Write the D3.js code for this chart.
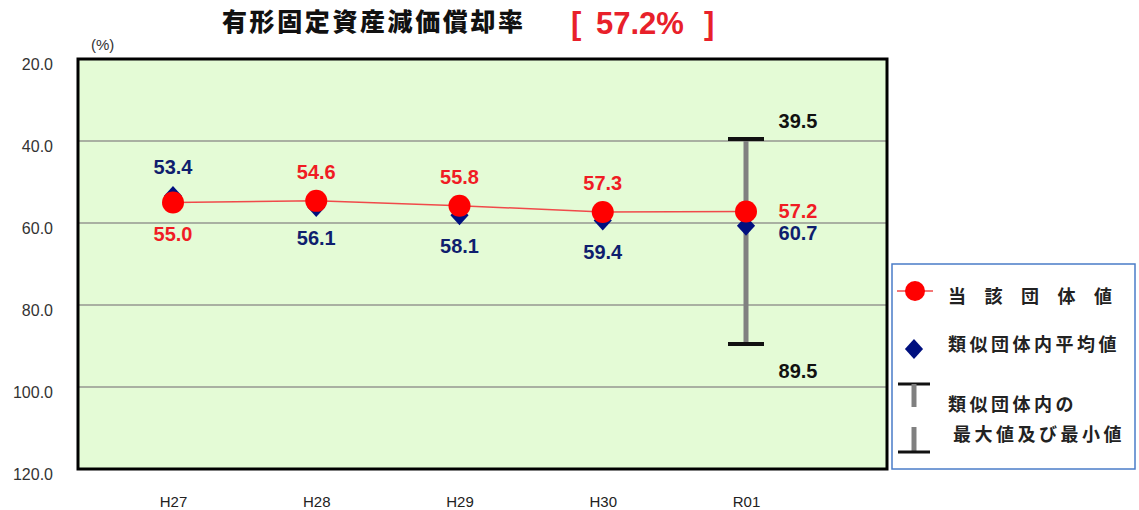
<!DOCTYPE html>
<html>
<head>
<meta charset="utf-8">
<script src="https://cdn.jsdelivr.net/npm/d3@7"></script>
<style>
  html, body { margin: 0; padding: 0; background: #ffffff; }
  svg { display: block; }
</style>
</head>
<body>
<svg id="chart" width="1139" height="510"></svg>
<script>
// Fiscal years
const categories = ["H27", "H28", "H29", "H30", "R01"];
// This body's ratio (%)
const ownValues = [55.0, 54.6, 55.8, 57.3, 57.2];
// Average of similar bodies (%)
const avgValues = [53.4, 56.1, 58.1, 59.4, 60.7];
// Range among similar bodies for the latest year
const rangeYear = "R01";
const rangeMax = 39.5;
const rangeMin = 89.5;
// Y axis ticks
const yTicks = [20, 40, 60, 80, 100, 120];
const headline = "57.2%";

const svg = d3.select("#chart");
const numFont = "'Liberation Sans', Arial, sans-serif";
const jpFont = "'Noto Sans CJK JP', sans-serif";

const plot = { left: 78, top: 59, right: 887, bottom: 469 };

const y = d3.scaleLinear().domain([20, 120]).range([plot.top, plot.bottom]);
const x = d3.scalePoint().domain(categories).range([173, 746]);

// Title
svg.append("text")
  .attr("x", 222).attr("y", 31)
  .attr("font-family", jpFont).attr("font-weight", 900)
  .attr("font-size", 25).attr("letter-spacing", 2.6)
  .attr("fill", "#111")
  .text("有形固定資産減価償却率");
const titleNum = svg.append("g")
  .attr("font-family", numFont).attr("font-weight", 700)
  .attr("font-size", 31).attr("fill", "#e8202a");
titleNum.append("text").attr("x", 571).attr("y", 34).text("[");
titleNum.append("text").attr("x", 596).attr("y", 34).text(headline);
titleNum.append("text").attr("x", 704).attr("y", 34).text("]");

// Unit label
svg.append("text")
  .attr("x", 91).attr("y", 50)
  .attr("font-family", numFont).attr("font-size", 15).attr("fill", "#333")
  .text("(%)");

// Plot background
svg.append("rect")
  .attr("x", plot.left).attr("y", plot.top)
  .attr("width", plot.right - plot.left).attr("height", plot.bottom - plot.top)
  .attr("fill", "#e4fbd6");

// Gridlines
svg.append("g").selectAll("line")
  .data(yTicks.filter(t => t > 20 && t < 120))
  .join("line")
  .attr("x1", plot.left).attr("x2", plot.right)
  .attr("y1", d => y(d)).attr("y2", d => y(d))
  .attr("stroke", "#a9b0a2").attr("stroke-width", 2);

// Y axis labels
const yAxis = d3.axisLeft(y).tickValues(yTicks).tickFormat(d3.format(".1f")).tickSize(0).tickPadding(0);
const yg = svg.append("g").attr("transform", `translate(53,0)`).call(yAxis);
yg.select(".domain").remove();
yg.selectAll("text")
  .attr("font-family", numFont).attr("font-size", 16).attr("fill", "#333")
  .attr("dy", "0.65em");

// X axis labels
const xAxis = d3.axisBottom(x).tickSize(0).tickPadding(0);
const xg = svg.append("g").attr("transform", `translate(0,496)`).call(xAxis);
xg.select(".domain").remove();
xg.selectAll("text")
  .attr("font-family", numFont).attr("font-size", 15).attr("fill", "#222");

// Plot frame
svg.append("rect")
  .attr("x", plot.left).attr("y", plot.top)
  .attr("width", plot.right - plot.left).attr("height", plot.bottom - plot.top)
  .attr("fill", "none").attr("stroke", "#000").attr("stroke-width", 3);

// Range bar (max / min of similar bodies)
const rx = x(rangeYear);
svg.append("line")
  .attr("x1", rx).attr("x2", rx).attr("y1", y(rangeMax)).attr("y2", y(rangeMin))
  .attr("stroke", "#808080").attr("stroke-width", 5);
[rangeMax, rangeMin].forEach(v => {
  svg.append("line")
    .attr("x1", rx - 18).attr("x2", rx + 18).attr("y1", y(v)).attr("y2", y(v))
    .attr("stroke", "#111").attr("stroke-width", 4);
});
const blackLabel = (v, ty) => svg.append("text")
  .attr("x", rx + 52).attr("y", ty)
  .attr("text-anchor", "middle")
  .attr("font-family", numFont).attr("font-weight", 700).attr("font-size", 20).attr("fill", "#111")
  .text(v.toFixed(1));
blackLabel(rangeMax, y(rangeMax) - 11);
blackLabel(rangeMin, y(rangeMin) + 34);

// Average markers (diamonds)
const diamond = d3.symbol().type(d3.symbolDiamond2).size(210);
svg.append("g").selectAll("path")
  .data(categories.map((c, i) => ({ c, v: avgValues[i] })))
  .join("path")
  .attr("transform", d => `translate(${x(d.c)},${y(d.v)}) scale(1,1.1)`)
  .attr("d", diamond)
  .attr("fill", "#00107f");

// Own value line + circles
const pts = categories.map((c, i) => ({ c, v: ownValues[i], a: avgValues[i] }));
svg.append("path")
  .datum(pts)
  .attr("d", d3.line().x(d => x(d.c)).y(d => y(d.v)))
  .attr("fill", "none").attr("stroke", "#f04a4a").attr("stroke-width", 1.5);
svg.append("g").selectAll("circle")
  .data(pts)
  .join("circle")
  .attr("cx", d => x(d.c)).attr("cy", d => y(d.v)).attr("r", 11)
  .attr("fill", "#ff0000");

// Value labels
const labelG = svg.append("g")
  .attr("font-family", numFont).attr("font-weight", 700).attr("font-size", 20)
  .attr("text-anchor", "middle");
pts.forEach(d => {
  const px = x(d.c);
  if (d.c === rangeYear) {
    labelG.append("text").attr("x", px + 52).attr("y", y(d.v) + 6)
      .attr("fill", "#f01c24").text(d.v.toFixed(1));
    labelG.append("text").attr("x", px + 52).attr("y", y(d.a) + 14)
      .attr("fill", "#0f1e6e").text(d.a.toFixed(1));
    return;
  }
  const ownAbove = d.v <= d.a;
  const yAbove = v => y(v) - 22;
  const yBelow = v => y(v) + 38;
  labelG.append("text").attr("x", px)
    .attr("y", ownAbove ? yAbove(d.v) : yBelow(d.v))
    .attr("fill", "#f01c24").text(d.v.toFixed(1));
  labelG.append("text").attr("x", px)
    .attr("y", ownAbove ? yBelow(d.a) : yAbove(d.a))
    .attr("fill", "#0f1e6e").text(d.a.toFixed(1));
});

// Legend
const lg = svg.append("g");
lg.append("rect")
  .attr("x", 892).attr("y", 264).attr("width", 243).attr("height", 205)
  .attr("fill", "#fff").attr("stroke", "#4a7cc8").attr("stroke-width", 1.5);
lg.append("line").attr("x1", 897).attr("x2", 933).attr("y1", 291).attr("y2", 291)
  .attr("stroke", "#f04a4a").attr("stroke-width", 1.5);
lg.append("circle").attr("cx", 915).attr("cy", 291).attr("r", 10).attr("fill", "#ff0000");
lg.append("path").attr("transform", "translate(914,349) scale(1,1.1)").attr("d", diamond).attr("fill", "#00107f");
// range bar glyph
lg.append("line").attr("x1", 898).attr("x2", 930).attr("y1", 384).attr("y2", 384).attr("stroke", "#111").attr("stroke-width", 3);
lg.append("line").attr("x1", 914).attr("x2", 914).attr("y1", 384).attr("y2", 407).attr("stroke", "#808080").attr("stroke-width", 5);
lg.append("line").attr("x1", 914).attr("x2", 914).attr("y1", 427).attr("y2", 452).attr("stroke", "#808080").attr("stroke-width", 5);
lg.append("line").attr("x1", 898).attr("x2", 930).attr("y1", 452).attr("y2", 452).attr("stroke", "#111").attr("stroke-width", 3);

const legendText = (tx, ty, s, ls) => lg.append("text")
  .attr("x", tx).attr("y", ty)
  .attr("font-family", jpFont).attr("font-weight", 700).attr("font-size", 18)
  .attr("letter-spacing", ls).attr("fill", "#222").text(s);
legendText(948, 303, "当該団体値", 18.5);
legendText(948, 351, "類似団体内平均値", 3.5);
legendText(948, 411, "類似団体内の", 3.5);
legendText(953, 441, "最大値及び最小値", 3.5);
</script>
</body>
</html>
